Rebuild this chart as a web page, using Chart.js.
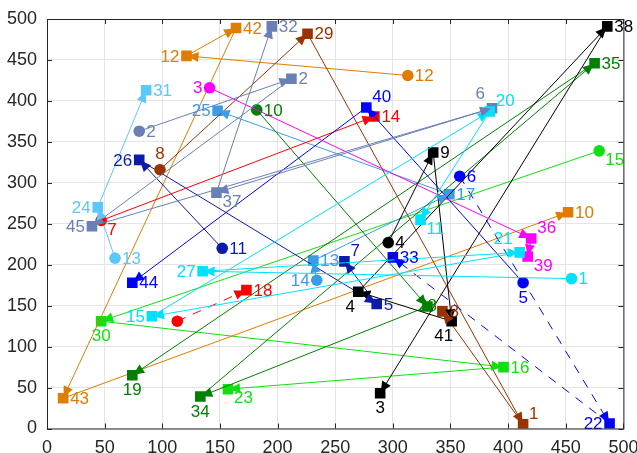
<!DOCTYPE html>
<html>
<head>
<meta charset="utf-8">
<script src="https://cdn.jsdelivr.net/npm/chart.js@4"></script>
<style>
  body { margin: 0; background: #fff; }
</style>
</head>
<body>
<canvas id="routeChart" width="637" height="453"></canvas>
<script>
const axisTicks = [0, 50, 100, 150, 200, 250, 300, 350, 400, 450, 500];

// each agent starts at its circle, then visits tasks (squares) in order
const a1X = [455, 135, 410, 91, 384, 324];
const a1Y = [183, 192, 215, 137, 387, 255];
const a1Labels = ['1', '27', '21', '15', '20', '11'];

const a2X = [80, 212, 39, 386, 147, 195];
const a2Y = [363, 427, 247, 391, 288, 491];
const a2Labels = ['2', '2', '45', '6', '37', '32'];

const a3X = [141, 420, 417];
const a3Y = [416, 232, 210];
const a3Labels = ['3', '36', '39'];

const a4X = [296, 335, 351, 270, 486, 289];
const a4Y = [227, 337, 131, 167, 491, 43];
const a4Labels = ['4', '9', '41', '4', '38', '3'];

const a5X = [413, 277, 74];
const a5Y = [178, 392, 178];
const a5Labels = ['5', '40', '44'];

const a6X = [358, 488, 300];
const a6Y = [308, 6, 209];
const a6Labels = ['6', '22', '33'];

const a7X = [47, 284];
const a7Y = [254, 381];
const a7Labels = ['7', '14'];

const a8X = [98, 226, 413, 343];
const a8Y = [316, 482, 5, 143];
const a8Labels = ['8', '29', '1', '8'];

const a9X = [113, 173];
const a9Y = [131, 169];
const a9Labels = ['', '18'];

const a10X = [182, 330, 133, 475, 74];
const a10Y = [389, 149, 39, 446, 65];
const a10Labels = ['10', '28', '34', '35', '19'];

const a11X = [152, 80, 286, 258];
const a11Y = [220, 328, 152, 204];
const a11Labels = ['11', '26', '5', '7'];

const a12X = [313, 121, 164, 14, 452];
const a12Y = [431, 455, 489, 37, 264];
const a12Labels = ['12', '12', '42', '43', '10'];

const a13X = [59, 44, 86];
const a13Y = [208, 270, 413];
const a13Labels = ['13', '24', '31'];

const a14X = [234, 231, 349, 148];
const a14Y = [181, 205, 286, 388];
const a14Labels = ['14', '13', '17', '25'];

const a15X = [479, 47, 396, 157];
const a15Y = [339, 131, 75, 48];
const a15Labels = ['15', '30', '16', '23'];

// colours, dash and where each label sits relative to its marker
const agents = [
  { x: a1X, y: a1Y, labels: a1Labels, color: '#00e1ff', pos: ['E', 'W', 'NW', 'W', 'NE', 'SE'] },
  { x: a2X, y: a2Y, labels: a2Labels, color: '#6a7fb6', pos: ['E', 'E', 'W', 'NW', 'SE', 'E'] },
  { x: a3X, y: a3Y, labels: a3Labels, color: '#ff00ff', pos: ['W', 'NE', 'SE'] },
  { x: a4X, y: a4Y, labels: a4Labels, color: '#000000', pos: ['E', 'E', 'SW', 'SW', 'E', 'S'] },
  { x: a5X, y: a5Y, labels: a5Labels, color: '#0000ff', pos: ['S', 'NE', 'E'] },
  { x: a6X, y: a6Y, labels: a6Labels, color: '#0000ff', pos: ['E', 'W', 'E'], dash: [9, 8] },
  { x: a7X, y: a7Y, labels: a7Labels, color: '#ff0000', pos: ['SE', 'E'] },
  { x: a8X, y: a8Y, labels: a8Labels, color: '#993300', pos: ['N', 'E', 'NE', 'E'] },
  { x: a9X, y: a9Y, labels: a9Labels, color: '#ff0000', pos: ['E', 'E'], dash: [9, 8] },
  { x: a10X, y: a10Y, labels: a10Labels, color: '#008000', pos: ['E', 'C', 'S', 'E', 'S'] },
  { x: a11X, y: a11Y, labels: a11Labels, color: '#0a1ca8', pos: ['E', 'W', 'E', 'NE'] },
  { x: a12X, y: a12Y, labels: a12Labels, color: '#e07c00', pos: ['E', 'W', 'E', 'E', 'E'] },
  { x: a13X, y: a13Y, labels: a13Labels, color: '#5ac8fa', pos: ['E', 'W', 'E'] },
  { x: a14X, y: a14Y, labels: a14Labels, color: '#3d9be6', pos: ['W', 'E', 'E', 'W'] },
  { x: a15X, y: a15Y, labels: a15Labels, color: '#10e010', pos: ['SE', 'S', 'E', 'SE'] }
];

const datasets = agents.map(a => ({
  data: a.x.map((v, i) => ({ x: v, y: a.y[i] })),
  showLine: true,
  borderColor: a.color,
  borderWidth: 1,
  borderDash: a.dash || [],
  backgroundColor: a.color,
  pointBackgroundColor: a.color,
  pointBorderWidth: 0,
  pointStyle: ctx => ctx.dataIndex === 0 ? 'circle' : 'rect',
  pointRadius: ctx => ctx.dataIndex === 0 ? 5.8 : 7.5
}));

// arrowheads at the end of each leg, then the number labels
const arrowPlugin = {
  id: 'arrows',
  afterDatasetsDraw(chart) {
    const { ctx } = chart;
    const sx = chart.scales.x, sy = chart.scales.y;
    agents.forEach(a => {
      ctx.save();
      ctx.fillStyle = a.color;
      for (let i = 1; i < a.x.length; i++) {
        const x0 = sx.getPixelForValue(a.x[i - 1]), y0 = sy.getPixelForValue(a.y[i - 1]);
        const x1 = sx.getPixelForValue(a.x[i]), y1 = sy.getPixelForValue(a.y[i]);
        const len = Math.hypot(x1 - x0, y1 - y0);
        const ux = (x1 - x0) / len, uy = (y1 - y0) / len;
        const bx = x1 - ux * 12, by = y1 - uy * 12;
        ctx.beginPath();
        ctx.moveTo(x1 - ux * 1, y1 - uy * 1);
        ctx.lineTo(bx - uy * 5, by + ux * 5);
        ctx.lineTo(bx + uy * 5, by - ux * 5);
        ctx.closePath();
        ctx.fill();
      }
      ctx.restore();
    });

    ctx.save();
    ctx.font = '17px "Liberation Sans", Arial, sans-serif';
    agents.forEach(a => {
      ctx.fillStyle = a.color;
      a.labels.forEach((txt, i) => {
        if (!txt) return;
        const px = sx.getPixelForValue(a.x[i]), py = sy.getPixelForValue(a.y[i]);
        let tx = px, ty = py, al = 'left', bl = 'middle';
        switch (a.pos[i]) {
          case 'E': tx = px + 7; ty = py + 1; break;
          case 'W': tx = px - 7; ty = py + 1; al = 'right'; break;
          case 'N': ty = py - 7; al = 'center'; bl = 'bottom'; break;
          case 'S': ty = py + 7; al = 'center'; bl = 'top'; break;
          case 'NE': tx = px + 6; ty = py - 2; bl = 'bottom'; break;
          case 'NW': tx = px - 7; ty = py - 5; al = 'right'; bl = 'bottom'; break;
          case 'SE': tx = px + 6; ty = py + 1; bl = 'top'; break;
          case 'SW': tx = px - 8; ty = py + 7; al = 'center'; bl = 'top'; break;
          case 'C': al = 'center'; break;
        }
        ctx.textAlign = al;
        ctx.textBaseline = bl;
        ctx.fillText(txt, tx, ty);
      });
    });
    ctx.restore();
  }
};

// box round the axes with inward tick marks on all four sides
const framePlugin = {
  id: 'frame',
  afterDraw(chart) {
    const { ctx, chartArea: ca } = chart;
    const sx = chart.scales.x, sy = chart.scales.y;
    ctx.save();
    ctx.strokeStyle = '#262626';
    ctx.lineWidth = 1;
    ctx.strokeRect(ca.left + 0.5, ca.top + 0.5, ca.right - ca.left, ca.bottom - ca.top);
    ctx.beginPath();
    axisTicks.forEach(t => {
      const px = Math.round(sx.getPixelForValue(t)) + 0.5;
      ctx.moveTo(px, ca.bottom); ctx.lineTo(px, ca.bottom - 5);
      ctx.moveTo(px, ca.top); ctx.lineTo(px, ca.top + 5);
      const py = Math.round(sy.getPixelForValue(t)) + 0.5;
      ctx.moveTo(ca.left, py); ctx.lineTo(ca.left + 5, py);
      ctx.moveTo(ca.right, py); ctx.lineTo(ca.right - 5, py);
    });
    ctx.stroke();
    ctx.restore();
  }
};

const tickFont = { family: '"Liberation Sans", Arial, sans-serif', size: 18 };

new Chart(document.getElementById('routeChart'), {
  type: 'scatter',
  data: { datasets: datasets },
  options: {
    responsive: false,
    animation: false,
    events: [],
    layout: { padding: { top: 19, right: 13.6, left: 0, bottom: 0 } },
    plugins: { legend: { display: false }, tooltip: { enabled: false } },
    scales: {
      x: {
        type: 'linear',
        min: axisTicks[0],
        max: axisTicks[axisTicks.length - 1],
        ticks: { stepSize: 50, font: tickFont, color: '#262626', padding: 9, maxRotation: 0, autoSkip: false },
        grid: { color: '#e4e4e4', drawTicks: false },
        border: { display: false },
        afterFit: s => { s.height = 24.5; s.paddingLeft = 0; s.paddingRight = 0; }
      },
      y: {
        type: 'linear',
        min: axisTicks[0],
        max: axisTicks[axisTicks.length - 1],
        ticks: { stepSize: 50, font: tickFont, color: '#262626', padding: 10, autoSkip: false },
        grid: { color: '#e4e4e4', drawTicks: false },
        border: { display: false },
        afterFit: s => { s.width = 47; s.paddingTop = 0; s.paddingBottom = 0; }
      }
    }
  },
  plugins: [arrowPlugin, framePlugin]
});
</script>
</body>
</html>
